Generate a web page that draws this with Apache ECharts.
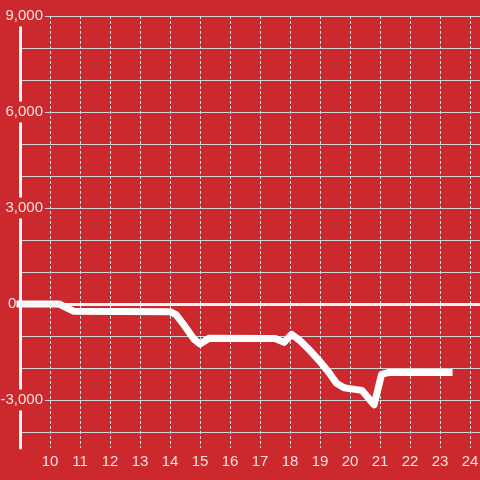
<!DOCTYPE html>
<html>
<head>
<meta charset="utf-8">
<script src="https://cdn.jsdelivr.net/npm/echarts@6/dist/echarts.min.js"></script>
<style>
  html, body { margin: 0; padding: 0; background: #cc292e; }
  #chart { width: 480px; height: 480px; }
</style>
</head>
<body>
<div id="chart"></div>
<script>
// x position (hour) and value of each point of the line
const hours = [9, 10.3, 10.8, 14.0, 14.2, 14.5, 14.8, 15.0, 15.3, 17.5, 17.8, 18.05, 18.3, 18.65, 19.0, 19.3, 19.55, 19.8, 20.1, 20.4, 20.8, 21.05, 21.3, 23.3];
const values = [0, 0, -230, -240, -330, -700, -1100, -1250, -1070, -1080, -1200, -950, -1120, -1440, -1800, -2150, -2480, -2620, -2660, -2700, -3150, -2200, -2140, -2140];

const yLabelValues = [-3000, 0, 3000, 6000, 9000];

const bg = '#cc292e';
const labelColor = 'rgba(255,255,255,0.85)';

const chart = echarts.init(document.getElementById('chart'));
chart.setOption({
  backgroundColor: bg,
  animation: false,
  grid: { left: 20, right: 0, top: 16, bottom: 32, containLabel: false, outerBoundsMode: 'none' },
  xAxis: {
    type: 'value',
    min: 9,
    max: 24.33,
    interval: 1,
    axisLine: { show: false },
    axisTick: { show: false },
    axisLabel: {
      color: labelColor,
      fontSize: 15,
      fontFamily: 'Liberation Sans',
      margin: 6,
      formatter: v => (Number.isInteger(v) && v > 9) ? String(v) : ''
    },
    splitLine: {
      show: true,
      showMinLine: false,
      showMaxLine: false,
      lineStyle: { color: '#dddddd', width: 1, type: [3, 2] }
    }
  },
  yAxis: {
    type: 'value',
    min: -4500,
    max: 9000,
    interval: 500,
    axisLine: { show: true, lineStyle: { color: '#f4f4f4', width: 3 } },
    axisTick: { show: false },
    axisLabel: {
      margin: -25,
      align: 'right',
      formatter: v => {
        if (v === 0) return '{z|0}';
        if (yLabelValues.indexOf(v) >= 0) return '{n|' + v.toLocaleString('en-US') + '}';
        return '';
      },
      rich: {
        n: {
          color: labelColor,
          fontSize: 15,
          fontFamily: 'Liberation Sans',
          backgroundColor: bg,
          padding: [3, 2, 3, 2]
        },
        z: {
          color: labelColor,
          fontSize: 15,
          fontFamily: 'Liberation Sans',
          width: 37,
          align: 'left'
        }
      }
    },
    splitLine: {
      show: true,
      lineStyle: { color: ['rgba(0,0,0,0)', '#d5d5d5'], width: 1 }
    }
  },
  series: [
    {
      type: 'line',
      data: hours.map((h, i) => [h, values[i]]),
      showSymbol: false,
      lineStyle: { color: '#ffffff', width: 7, cap: 'square', join: 'round' },
      markLine: {
        silent: true,
        symbol: 'none',
        label: { show: false },
        lineStyle: { color: '#f4f4f4', width: 3, type: 'solid' },
        data: [{ yAxis: 0 }]
      }
    }
  ]
});
</script>
</body>
</html>
